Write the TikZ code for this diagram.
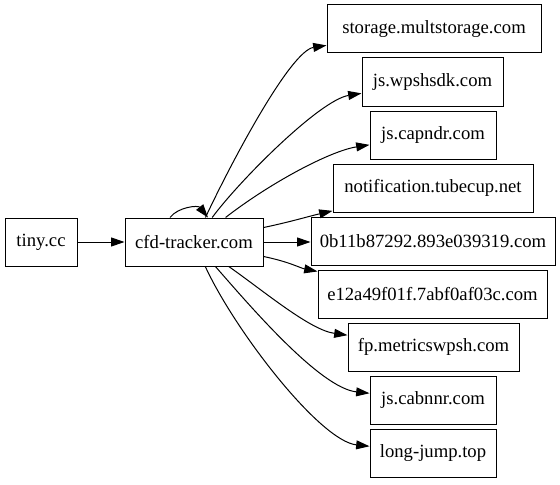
\documentclass[tikz,border=0pt]{standalone}
\usepackage{fontspec}
\setmainfont{Liberation Serif}
\usetikzlibrary{arrows.meta,calc}
\begin{document}
\begin{tikzpicture}[x=0.75pt,y=-0.75pt,
  box/.style={draw,line width=0.75pt,minimum height=36pt,inner sep=0pt,font=\fontsize{14pt}{16pt}\selectfont},
  edge/.style={line width=0.75pt,-{Triangle[length=10pt,width=6.7pt]}}]
\useasboundingbox (0,0) rectangle (560,485);
\node[box,minimum width=54pt] (tiny) at (41,242) {tiny.cc};
\node[box,minimum width=103.5pt] (cfd) at (194,242) {cfd-tracker.com};
\node[box,minimum width=160.5pt] (stor) at (434,29) {storage.multstorage.com};
\node[box,minimum width=105.75pt] (wps) at (432.5,82) {js.wpshsdk.com};
\node[box,minimum width=94.5pt] (cap) at (433,135) {js.capndr.com};
\node[box,minimum width=150pt] (notif) at (433,188) {notification.tubecup.net};
\node[box,minimum width=183pt] (obb) at (433,241) {0b11b87292.893e039319.com};
\node[box,minimum width=171.75pt] (e12) at (432.5,294) {e12a49f01f.7abf0af03c.com};
\node[box,minimum width=128.25pt] (fp) at (433.5,347) {fp.metricswpsh.com};
\node[box,minimum width=94.5pt] (cab) at (433,400) {js.cabnnr.com};
\node[box,minimum width=94.5pt] (lj) at (433,453) {long-jump.top};
\draw[edge] (tiny) -- (cfd);
\draw[edge] ($(cfd.north)+(-24,0)$) .. controls (178,207) and (198,205) .. ($(cfd.north)+(14,0)$);
\draw[edge] (cfd) .. controls (230,165) and (290,51) .. (stor);
\draw[edge] (cfd) .. controls (240,180) and (320,100) .. (wps);
\draw[edge] (cfd) .. controls (270,183) and (330,151) .. (cap);
\draw[edge] (cfd) .. controls (290,222) and (310,216) .. (notif);
\draw[edge] (cfd) -- (obb.west |- cfd);
\draw[edge] (cfd) .. controls (290,262) and (300,268) .. (e12);
\draw[edge] (cfd) .. controls (265,292) and (310,330) .. (fp);
\draw[edge] (cfd) .. controls (250,306) and (320,388) .. (cab);
\draw[edge] (cfd) .. controls (235,331) and (320,441) .. (lj);
\end{tikzpicture}
\end{document}
